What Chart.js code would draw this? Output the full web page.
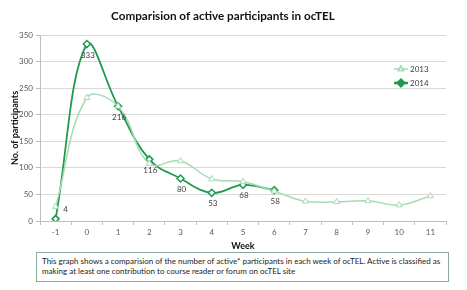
<!DOCTYPE html>
<html>
<head>
<meta charset="utf-8">
<script src="https://cdn.jsdelivr.net/npm/chart.js@4/dist/chart.umd.min.js"></script>
<style>
	html, body { margin: 0; padding: 0; background: #fff; }
	.wrap { position: relative; width: 467px; height: 290px; }
	#chart { position: absolute; left: 0; top: 0; }
	.note {
		position: absolute; left: 36px; top: 252px; width: 402px; height: 22px;
		border: 1.5px solid #86aa94; padding: 4px 4px 2px 5px;
		font-family: Lato, sans-serif; font-size: 8px; line-height: 9.5px; color: #222;
	}
</style>
</head>
<body>
<div class="wrap">
	<canvas id="chart" width="467" height="251"></canvas>
	<div class="note">This graph shows a comparision of the number of active* participants in each week of ocTEL. Active is classified as making at least one contribution to course reader or forum on ocTEL site</div>
</div>
<script>
const WEEKS = ["-1", "0", "1", "2", "3", "4", "5", "6", "7", "8", "9", "10", "11"];
const PARTICIPANTS_2013 = [27, 232, 216, 108, 113, 79, 74, 56, 37, 36, 38, 30, 47];
const PARTICIPANTS_2014 = [4, 333, 216, 116, 80, 53, 68, 58];
const Y_TICKS = [0, 50, 100, 150, 200, 250, 300, 350];

const LIGHT = "#a6dab4";
const DARK = "#1f9a4e";
const FONT = "Lato, sans-serif";

// labels under the 2014 points, the first one sits to the right
const pointLabels = {
	id: "pointLabels",
	afterDatasetsDraw(chart) {
		const ctx = chart.ctx;
		const meta = chart.getDatasetMeta(1);
		ctx.save();
		ctx.font = "8px " + FONT;
		ctx.fillStyle = "#404040";
		ctx.textAlign = "center";
		ctx.textBaseline = "middle";
		meta.data.forEach((pt, i) => {
			const value = PARTICIPANTS_2014[i];
			if (i === 0) {
				ctx.fillText(value, pt.x + 10, pt.y - 9);
			} else {
				ctx.fillText(value, pt.x + 1, pt.y + 11);
			}
		});
		ctx.restore();
	},
};

const insideLegend = {
	id: "insideLegend",
	afterDraw(chart) {
		const ctx = chart.ctx;
		const items = [
			{ text: "2013", color: LIGHT, width: 1.5, style: "triangle", y: 69 },
			{ text: "2014", color: DARK, width: 2.5, style: "rectRot", y: 83 },
		];
		ctx.save();
		items.forEach((it) => {
			ctx.strokeStyle = it.color;
			ctx.lineWidth = it.width;
			ctx.beginPath();
			ctx.moveTo(394, it.y);
			ctx.lineTo(408, it.y);
			ctx.stroke();
			ctx.fillStyle = it.style === "rectRot" ? DARK : "#fff";
			Chart.helpers.drawPoint(ctx, { pointStyle: it.style, radius: 3, borderWidth: 1 }, 401, it.y);
			ctx.fill();
			ctx.stroke();
			ctx.fillStyle = "#404040";
			ctx.font = "8px " + FONT;
			ctx.textBaseline = "middle";
			ctx.fillText(it.text, 410, it.y);
		});
		ctx.restore();
	},
};

new Chart(document.getElementById("chart"), {
	type: "line",
	data: {
		labels: WEEKS,
		datasets: [
			{
				label: "2013",
				data: PARTICIPANTS_2013,
				borderColor: LIGHT,
				borderWidth: 1.5,
				tension: 0.4,
				pointStyle: "triangle",
				pointRadius: 3.5,
				pointBorderWidth: 1,
				pointBackgroundColor: "#fff",
				pointBorderColor: LIGHT,
			},
			{
				label: "2014",
				data: PARTICIPANTS_2014,
				borderColor: DARK,
				borderWidth: 1.8,
				tension: 0.4,
				pointStyle: "rectRot",
				pointRadius: 3.5,
				pointBorderWidth: 1.5,
				pointBackgroundColor: "#fff",
				pointBorderColor: DARK,
			},
		],
	},
	options: {
		responsive: false,
		animation: false,
		layout: {
			padding: { left: 0, right: 21, top: 0, bottom: 0 },
		},
		plugins: {
			legend: { display: false },
			tooltip: { enabled: false },
			title: {
				display: true,
				text: "Comparision of active participants in ocTEL",
				color: "#111",
				font: { family: FONT, size: 11.7, weight: "bold", lineHeight: 1.2 },
				padding: { top: 9, bottom: 12 },
			},
		},
		scales: {
			x: {
				offset: true,
				afterFit(scale) { scale.height = 30; },
				grid: {
					offset: true,
					drawOnChartArea: false,
					drawTicks: true,
					tickLength: 4,
					color: "#bfbfbf",
				},
				border: { color: "#bfbfbf" },
				ticks: {
					color: "#595959",
					font: { family: FONT, size: 8 },
					padding: 3,
					maxRotation: 0,
				},
				title: {
					display: true,
					text: "Week",
					color: "#111",
					font: { family: FONT, size: 9, weight: "bold" },
					padding: { top: 1, bottom: 0 },
				},
			},
			y: {
				min: 0,
				max: 350,
				afterFit(scale) { scale.width = 40; },
				afterBuildTicks(scale) {
					scale.ticks = Y_TICKS.map((v) => ({ value: v }));
				},
				grid: {
					color: "#d9d9d9",
					tickLength: 4,
					tickColor: "#bfbfbf",
				},
				border: { color: "#bfbfbf" },
				ticks: {
					color: "#595959",
					font: { family: FONT, size: 8 },
					padding: 3,
				},
				title: {
					display: true,
					text: "No. of participants",
					color: "#111",
					font: { family: FONT, size: 9, weight: "bold" },
					padding: { top: 10, bottom: 2 },
				},
			},
		},
	},
	plugins: [pointLabels, insideLegend],
});
</script>
</body>
</html>
